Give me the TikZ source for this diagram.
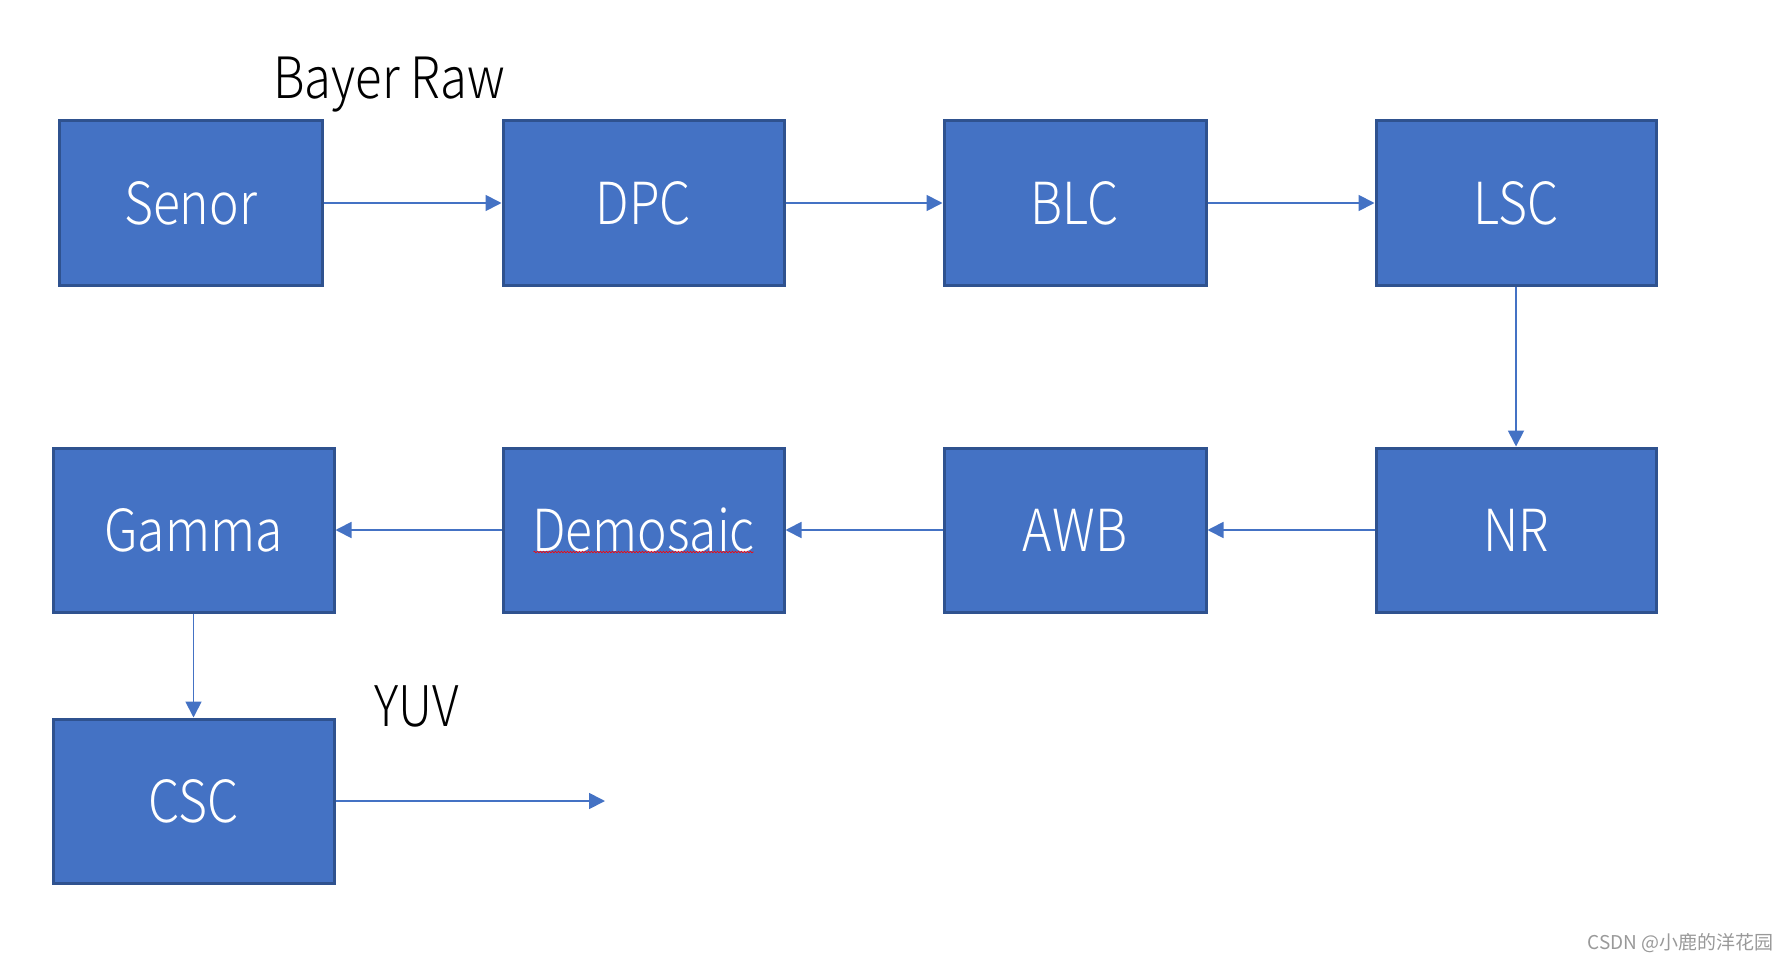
\documentclass[tikz,border=0pt]{standalone}
\usepackage{fontspec}
\setmainfont{Noto Sans CJK SC}[FakeStretch=0.86, UprightFont=* Light]
\newfontfamily\wmfont{Noto Sans CJK SC}
\usetikzlibrary{arrows.meta,decorations.pathmorphing}
\definecolor{boxfill}{HTML}{4472C4}
\definecolor{boxedge}{HTML}{2F528F}
\definecolor{wmgrey}{HTML}{999999}
\tikzset{
  stage/.style={draw=boxedge, line width=3pt, fill=boxfill, text=white, inner sep=0pt,
    minimum height=164pt, font=\fontsize{58}{58}\selectfont},
  flow/.style={draw=boxfill, line width=1.8pt, -{Triangle[length=16pt,width=16pt]}},
  lbl/.style={text=black, inner sep=0pt}
}
\begin{document}
\begin{tikzpicture}[x=1pt,y=-1pt]
\useasboundingbox (0,0) rectangle (1786,963);
\node[stage, minimum width=263pt] (senor) at (190.5,203) {Senor};
\node[stage, minimum width=281pt] (dpc) at (643.5,203) {DPC};
\node[stage, minimum width=262pt] (blc) at (1075,203) {BLC};
\node[stage, minimum width=280pt] (lsc) at (1516,203) {LSC};
\node[stage, minimum width=281pt] (gamma) at (193.5,530) {Gamma};
\node[stage, minimum width=281pt] (demo) at (643.5,530) {Demosaic};
\node[stage, minimum width=262pt] (awb) at (1075,530) {AWB};
\node[stage, minimum width=280pt] (nr) at (1516,530) {NR};
\node[stage, minimum width=281pt] (csc) at (193.5,801) {CSC};
\coordinate (out) at (605,801);
\node[lbl, font=\fontsize{57}{57}\selectfont] (bayer) at (389,85) {Bayer Raw};
\node[lbl, font=\fontsize{56}{56}\selectfont] (yuv) at (417,706) {YUV};
\node[inner sep=0pt, text=wmgrey, font=\wmfont\fontsize{19}{19}\selectfont, anchor=east] (wm) at (1774,943) {CSDN @小鹿的洋花园};
\draw[flow] (senor) -- (dpc);
\draw[flow] (dpc) -- (blc);
\draw[flow] (blc) -- (lsc);
\draw[flow] (lsc) -- (nr);
\draw[flow] (nr) -- (awb);
\draw[flow] (awb) -- (demo);
\draw[flow] (demo) -- (gamma);
\draw[flow] (gamma) -- (csc);
\draw[flow] (csc.east) -- (out);
\draw[red, line width=0.6pt, decorate, decoration={snake, amplitude=0.8pt, segment length=3pt}]
  ([xshift=-110pt,yshift=-22pt]demo.center) -- ([xshift=110pt,yshift=-22pt]demo.center);
\end{tikzpicture}
\end{document}
